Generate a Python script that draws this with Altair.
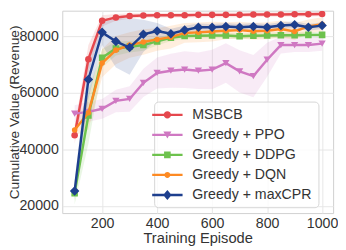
import altair as alt
import pandas as pd

episodes = [100, 150, 200, 250, 300, 350, 400, 450, 500, 550, 600, 650, 700, 750, 800, 850, 900, 950, 1000]

series_names = ["MSBCB", "Greedy + PPO", "Greedy + DDPG", "Greedy + DQN", "Greedy + maxCPR"]
colors = ["#e5474d", "#cf78c2", "#6dc24d", "#fd8a23", "#1d3f8e"]
marker_shapes = ["circle", "triangle-down", "square", "circle", "diamond"]
marker_sizes = [45, 55, 45, 32, 95]

msbcb = [45000, 72000, 85600, 86800, 87300, 87500, 87600, 87600, 87600, 87700, 87700, 87700, 87700, 87800, 87800, 87800, 87900, 87900, 88000]
msbcb_lo = [42000, 67000, 83600, 85600, 86300, 86700, 86800, 86800, 86800, 86900, 86900, 86900, 86900, 87000, 87000, 87000, 87100, 87100, 87200]
msbcb_hi = [48000, 77000, 87600, 88000, 88300, 88300, 88400, 88400, 88400, 88500, 88500, 88500, 88500, 88600, 88600, 88600, 88700, 88700, 88800]

ppo = [52700, 53300, 54400, 57200, 57900, 63600, 67100, 67900, 68300, 67900, 68300, 70600, 67700, 66000, 71800, 77000, 77000, 77000, 77500]
ppo_lo = [49700, 49800, 50900, 53200, 53400, 58600, 61600, 61900, 61800, 61400, 61300, 63600, 60200, 58500, 65800, 74000, 74500, 74500, 75000]
ppo_hi = [55700, 56800, 57900, 61200, 62400, 68600, 72600, 73900, 74800, 74400, 75300, 77600, 75200, 73500, 77800, 80000, 79500, 79500, 80000]

ddpg = [24500, 52000, 72500, 75800, 76400, 77000, 78300, 79600, 80200, 80300, 80400, 80400, 80100, 80300, 80400, 80500, 80500, 80600, 80600]
ddpg_lo = [20500, 42000, 69000, 73300, 74400, 75000, 76800, 78400, 79200, 79300, 79400, 79400, 79100, 79300, 79400, 79500, 79500, 79600, 79600]
ddpg_hi = [28500, 61000, 75500, 78300, 78400, 79000, 79800, 80800, 81200, 81300, 81400, 81400, 81100, 81300, 81400, 81500, 81500, 81600, 81600]

dqn = [46900, 53000, 70600, 75200, 77000, 78100, 79000, 79800, 81300, 81500, 81800, 82100, 82300, 81900, 82100, 82700, 81800, 83600, 84400]
dqn_lo = [44900, 47000, 65600, 70200, 72500, 73600, 75000, 75800, 77800, 78000, 78300, 79100, 79300, 78900, 79100, 79700, 78800, 81100, 81900]
dqn_hi = [48900, 59000, 75600, 80200, 81500, 82600, 83000, 83800, 84800, 85000, 85300, 85100, 85300, 84900, 85100, 85700, 84800, 86100, 86900]

maxcpr = [25300, 64800, 81500, 78300, 76100, 80800, 82000, 81000, 82300, 83300, 83300, 83600, 83300, 83600, 83300, 83900, 84200, 83300, 83900]
maxcpr_lo = [22000, 58000, 77000, 69000, 66500, 74500, 79000, 79300, 80800, 82000, 82100, 82400, 82100, 82400, 82100, 82700, 83000, 82100, 82700]
maxcpr_hi = [29000, 71000, 85000, 86500, 86500, 86000, 84800, 82800, 83800, 84600, 84500, 84800, 84500, 84800, 84500, 85100, 85400, 84500, 85100]

LINE = "M-2.07,-0.16L2.07,-0.16L2.07,0.16L-2.07,0.16Z "
legend_paths = [
    LINE + "M-0.5,0A0.5,0.5 0 1,1 0.5,0A0.5,0.5 0 1,1 -0.5,0Z",
    LINE + "M-0.55,-0.45L0.55,-0.45L0,0.5Z",
    LINE + "M-0.45,-0.45L0.45,-0.45L0.45,0.45L-0.45,0.45Z",
    LINE + "M-0.4,0A0.4,0.4 0 1,1 0.4,0A0.4,0.4 0 1,1 -0.4,0Z",
    LINE + "M0,-0.68L0.58,0L0,0.68L-0.58,0Z",
]

data = {
    "MSBCB": (msbcb, msbcb_lo, msbcb_hi),
    "Greedy + PPO": (ppo, ppo_lo, ppo_hi),
    "Greedy + DDPG": (ddpg, ddpg_lo, ddpg_hi),
    "Greedy + DQN": (dqn, dqn_lo, dqn_hi),
    "Greedy + maxCPR": (maxcpr, maxcpr_lo, maxcpr_hi),
}

rows = []
for name in series_names:
    vals, lo, hi = data[name]
    for e, v, l, h in zip(episodes, vals, lo, hi):
        rows.append({"episode": e, "series": name, "value": v, "lo": l, "hi": h})
df = pd.DataFrame(rows)

FONT = "Liberation Sans"
xscale = alt.Scale(domain=[55, 1040], nice=False, zero=False)
yscale = alt.Scale(domain=[17435, 89185], nice=False, zero=False)
xenc = alt.X("episode:Q", scale=xscale,
             axis=alt.Axis(values=[200, 400, 600, 800, 1000], format="d", title="Training Episode",
                           labelPadding=4, titlePadding=1))
yenc = alt.Y("value:Q", scale=yscale,
             axis=alt.Axis(values=[20000, 40000, 60000, 80000], format="d",
                           title="Cumulative Value (Revenue)", labelPadding=4, titlePadding=-3,
                           titleFontSize=14))

base = alt.Chart(df)

band_layers = []
line_layers = []
for name, col, shp, sz in zip(series_names, colors, marker_shapes, marker_sizes):
    sub = base.transform_filter(alt.datum.series == name)
    band_layers.append(sub.mark_area(opacity=0.15, clip=True, color=col).encode(
        x=xenc, y=alt.Y("lo:Q", scale=yscale), y2="hi:Q"))
    line_layers.append(sub.mark_line(strokeWidth=2.5, clip=True, color=col).encode(
        x=xenc, y=yenc))
    line_layers.append(sub.mark_point(filled=True, opacity=1, shape=shp, size=sz, clip=True,
                                      color=col).encode(x=xenc, y=yenc))

leg = alt.Legend(title=None, orient="none", legendX=94, legendY=93, symbolSize=225,
                 labelOffset=18, rowPadding=5.5, labelFontSize=14.5, labelFont=FONT,
                 labelColor="#333333", fillColor="rgba(255,255,255,0.8)",
                 strokeColor="#d5d5d5", cornerRadius=4, padding=6, symbolStrokeWidth=0,
                 symbolOpacity=1, labelLimit=0)
legend_layer = base.mark_point(filled=True, opacity=0, clip=True).encode(
    x=xenc, y=yenc,
    fill=alt.Fill("series:N", scale=alt.Scale(domain=series_names, range=colors), legend=leg),
    shape=alt.Shape("series:N", scale=alt.Scale(domain=series_names, range=legend_paths), legend=leg),
)

chart = alt.layer(*band_layers, *line_layers, legend_layer).properties(
    width=277, height=207,
    autosize=alt.AutoSizeParams(type="none"),
    padding={"left": 55.5, "top": 0, "right": 5, "bottom": 34.5},
).configure_view(
    stroke="#d0d0d0", strokeWidth=1,
).configure_axis(
    domain=False, ticks=False, grid=True, gridColor="#e6e6e6", gridWidth=1,
    labelFont=FONT, labelFontSize=14.5, labelColor="#333333",
    titleFont=FONT, titleFontSize=15, titleFontWeight="normal", titleColor="#333333",
)

chart.save("out.html", embed_options={"renderer": "svg", "actions": False})
